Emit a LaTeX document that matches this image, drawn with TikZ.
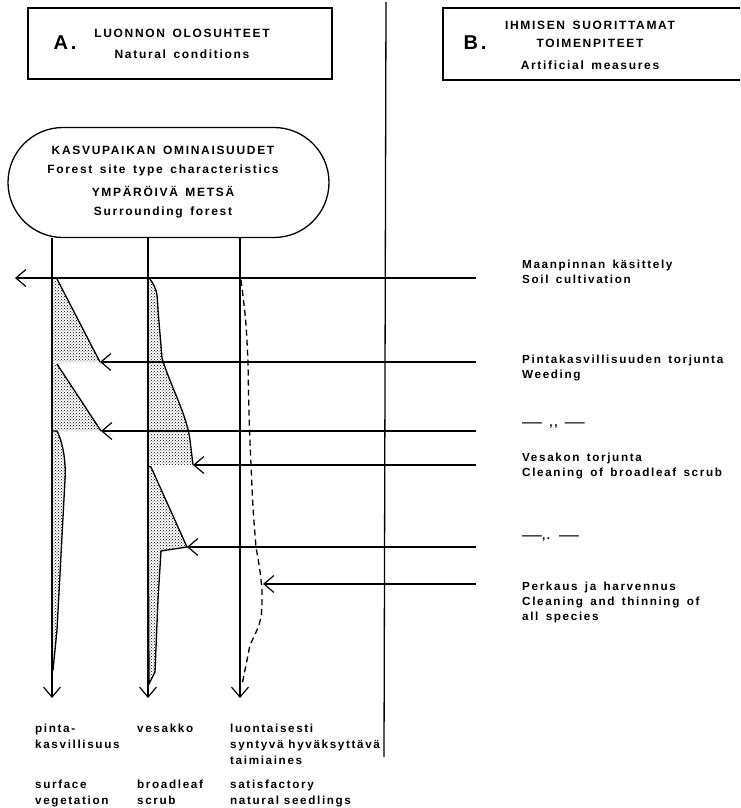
\documentclass[tikz,border=0pt]{standalone}
\usepackage{fontspec}
\usepackage{graphicx}
\setmainfont{Liberation Sans}[LetterSpace=14]
\newfontfamily\widefont{Liberation Sans}[LetterSpace=14, WordSpace=1.5]
\usetikzlibrary{arrows.meta, patterns}

\newcommand{\longdash}{\scalebox{1.7}[1]{—}}

\tikzstyle{frame} = [rectangle, draw=black, line width=1.3pt, minimum width=304pt, minimum height=71pt]
\tikzstyle{sitebox} = [rectangle, rounded corners=55pt, draw=black, line width=1.3pt, minimum width=321pt, minimum height=110pt]
\tikzstyle{heading} = [align=center, inner sep=0pt, font=\widefont\fontsize{12}{21}\selectfont\bfseries]
\tikzstyle{letter} = [inner sep=0pt, font=\fontsize{20}{20}\selectfont\bfseries]
\tikzstyle{measure} = [align=left, anchor=west, inner sep=0pt, font=\widefont\fontsize{11.7}{15}\selectfont\bfseries]
\tikzstyle{foot} = [align=left, anchor=north west, inner sep=0pt, font=\fontsize{11.7}{16}\selectfont\bfseries]
\tikzstyle{arrow} = [line width=1.2pt, -{Straight Barb[length=10pt,width=17pt]}]
\tikzstyle{stipple} = [draw=black, line width=1.3pt, pattern=crosshatch dots, pattern color=black]

\begin{document}
\begin{tikzpicture}[x=1pt, y=-1pt]
\useasboundingbox (0,0) rectangle (740,808);

% A and B headers
\node (boxA) [frame] at (180,43.5) {};
\node (letA) [letter] at (65,43) {A.};
\node (headA) [heading] at (182,43.5) {LUONNON OLOSUHTEET\\Natural conditions};
\draw [line width=1.3pt] (740,8) -- (443,8) -- (443,80) -- (740,80);
\node (letB) [letter] at (475,43) {B.};
\node (headB) [heading, font=\widefont\fontsize{12}{18}\selectfont\bfseries] at (590,45) {IHMISEN SUORITTAMAT\\TOIMENPITEET\\[4pt]Artificial measures};
\draw [line width=1.3pt] (386,2) -- (384,757);

\node (site) [sitebox] at (168.5,182.5) {};
\node (siteText) [heading, font=\widefont\fontsize{12}{19}\selectfont\bfseries] at (163,182.5) {KASVUPAIKAN OMINAISUUDET\\Forest site type characteristics\\[4pt]YMPÄRÖIVÄ METSÄ\\Surrounding forest};

% stippled areas
\fill [pattern=crosshatch dots, pattern color=black] (52,278) -- (57,279) -- (100,362) -- (52,362) -- cycle;
\draw [line width=1.3pt] (57,279) -- (100,362);
\fill [pattern=crosshatch dots, pattern color=black] (52,362) -- (57,364) -- (101,431) -- (52,431) -- cycle;
\draw [line width=1.3pt] (57,364) -- (101,431);
\filldraw [stipple] (52,431) -- (57,431) .. controls (64,445) and (66,465) .. (65,480) -- (57,630) -- (53,670) -- (52,670) -- cycle;
\fill [pattern=crosshatch dots, pattern color=black] (148,278) -- (150,279) .. controls (157,290) .. (158,310) -- (162,358) .. controls (170,385) and (187,415) .. (190,440) -- (193,465) -- (148,465) -- cycle;
\draw [line width=1.3pt] (150,279) .. controls (157,290) .. (158,310) -- (162,358) .. controls (170,385) and (187,415) .. (190,440) -- (193,465);
\filldraw [stipple] (148,466) -- (151,467) -- (187,547) -- (161,551) -- (158,600) -- (155,672) -- (149,684) -- cycle;
\draw [line width=1.3pt, dash pattern=on 6pt off 4pt] (241,280) .. controls (246,320) .. (248,362) .. controls (249,420) .. (251,465) .. controls (253,510) .. (256,547) .. controls (260,570) .. (262,590) .. controls (262,620) .. (250,645) -- (242,685);

% columns
\coordinate (endA) at (52,698);
\coordinate (endB) at (148,698);
\coordinate (endC) at (240,698);
\draw [arrow] (site.south -| endA) -- (endA);
\draw [arrow] (site.south -| endB) -- (endB);
\draw [arrow] (site.south -| endC) -- (endC);

% measures
\node (soil) [measure] at (522,272) {Maanpinnan käsittely\\Soil cultivation};
\node (weed) [measure] at (522,367.5) {Pintakasvillisuuden torjunta\\Weeding};
\node (ditto1) [measure] at (522,426) {\longdash{} ,, \longdash};
\node (scrub) [measure] at (522,465.5) {Vesakon torjunta\\Cleaning of broadleaf scrub};
\node (ditto2) [measure] at (522,539) {\longdash,. \longdash};
\node (thin) [measure] at (522,602) {Perkaus ja harvennus\\Cleaning and thinning of\\all species};

\coordinate (s1) at (476,278);
\coordinate (s2) at (476,362);
\coordinate (s3) at (476,431);
\coordinate (s4) at (476,465);
\coordinate (s5) at (476,547);
\coordinate (s6) at (476,584);
\draw [arrow] (s1) -- (15,278);
\draw [arrow] (s2) -- (100,362);
\draw [arrow] (s3) -- (101,431);
\draw [arrow] (s4) -- (193,465);
\draw [arrow] (s5) -- (187,547);
\draw [arrow] (s6) -- (263,584);

% names of the columns
\node (fiA) [foot] at (35,724) {pinta-\\kasvillisuus};
\node (fiB) [foot] at (137,724) {vesakko};
\node (fiC) [foot] at (230,724) {luontaisesti\\syntyvä hyväksyttävä\\taimiaines};
\node (enA) [foot] at (35,780) {surface\\vegetation};
\node (enB) [foot] at (137,780) {broadleaf\\scrub};
\node (enC) [foot] at (230,780) {satisfactory\\natural seedlings};

\end{tikzpicture}
\end{document}
